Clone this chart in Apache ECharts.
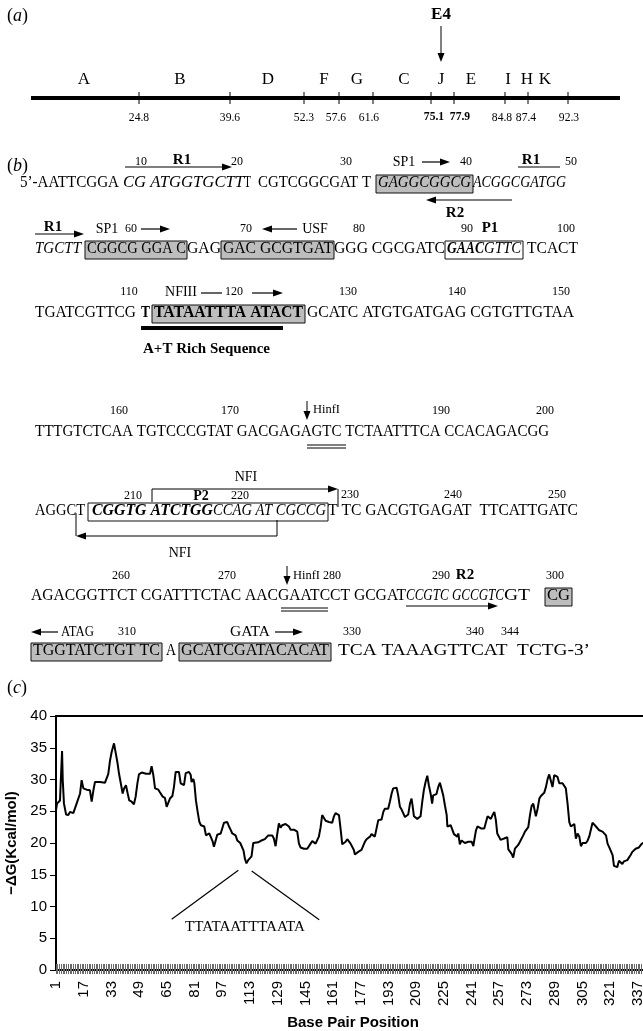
<!DOCTYPE html>
<html><head><meta charset="utf-8">
<script src="https://cdn.jsdelivr.net/npm/echarts@6/dist/echarts.min.js"></script>
<style>html,body{margin:0;padding:0;background:#fff}#main{width:643px;height:1031px}</style>
</head><body><div id="main"></div>
<script>
// ---------- DATA ----------
const mapLetters = ['A','B','D','F','G','C','J','E','I','H','K'];
const mapCoordLabels = ['24.8','39.6','52.3','57.6','61.6','75.1','77.9','84.8','87.4','92.3'];
const boldCoordLabels = ['75.1','77.9'];
const basePositions = [1,1.6,2.3,3.3,4.5,4.9,5.6,6.8,8.1,9.1,10.0,11.0,12.0,12.9,13.9,14.9,15.8,16.8,18.7,20.6,21.6,22.6,23.5,26.4,29.3,30.3,31.2,32.2,33.1,34.5,35.4,36.4,37.4,38.3,39.5,40.3,41.4,42.4,43.3,44.7,46.0,47.0,48.0,48.9,50.5,53.0,55.3,56.2,57.2,58.2,60.1,61.0,62.0,62.6,63.9,64.9,65.9,66.8,68.2,69.1,70.1,71.1,72.0,73.0,74.9,75.9,77.8,78.8,79.3,80.3,80.9,81.8,82.8,83.8,84.7,85.7,86.6,87.6,88.6,89.5,90.5,91.5,92.2,93.2,94.1,96.1,97.0,98.0,99.0,99.9,100.9,101.8,102.8,103.8,104.7,105.7,107.4,108.4,109.3,110.1,111.0,112.0,113.0,113.9,114.9,115.9,117.8,118.7,119.7,120.7,121.6,122.6,123.6,124.5,125.9,126.8,127.8,128.8,129.7,130.7,131.6,132.6,133.6,134.5,135.5,136.5,138.4,139.3,140.3,141.3,142.2,143.2,144.2,145.1,146.1,147.0,148.0,149.0,149.9,150.9,151.9,152.8,153.8,154.7,155.7,156.7,157.6,158.6,159.5,160.5,161.5,162.4,163.4,164.4,165.3,166.3,167.2,168.2,169.2,170.1,171.1,172.1,173.0,173.6,174.6,175.5,176.5,177.4,178.4,179.4,180.3,181.3,182.3,183.2,184.2,185.1,186.1,187.1,188.0,189.0,190.0,190.9,191.9,192.8,193.8,194.8,195.7,196.7,197.7,198.6,199.6,200.5,201.5,202.5,203.4,204.4,205.4,206.3,206.9,207.7,208.6,209.6,210.5,211.5,212.5,213.4,214.4,215.4,216.3,217.3,218.2,218.8,219.8,220.7,221.7,222.7,223.7,224.6,225.6,226.6,227.0,227.9,228.9,229.8,230.8,231.7,232.7,233.3,234.2,235.2,236.2,237.1,238.1,239.1,240.0,241.0,242.0,242.5,243.5,244.4,245.4,246.4,247.3,248.3,249.3,250.2,251.2,252.1,253.1,254.1,255.0,255.8,256.8,257.7,258.7,259.7,260.6,261.6,262.2,263.1,264.1,265.0,266.0,267.0,267.9,268.9,269.9,270.8,271.8,272.7,273.7,274.7,275.6,276.6,277.6,278.1,279.1,280.1,281.0,282.0,282.9,283.9,284.9,285.8,286.8,287.7,288.7,289.7,290.6,291.6,292.6,293.5,294.5,295.4,296.4,297.4,298.3,299.3,300.3,301.2,302.2,303.2,304.1,305.1,306.0,307.0,308.0,308.9,309.9,310.8,311.8,312.8,313.7,314.7,315.7,316.6,317.6,318.6,319.5,320.5,321.4,322.4,323.2,324.1,325.1,326.1,327.0,328.0,328.9,329.9,330.9,331.8,332.8,333.8,334.7,335.7,336.7,337.6,338.6,339.3,340.2];
const deltaG = [25.2,26.2,26.5,26.7,34.5,29.9,26.2,24.5,24.4,24.9,25.1,24.7,24.6,26.2,26.5,27.8,29.9,28.6,28.4,28.3,26.5,28.3,29.6,29.6,29.5,29.4,30.9,33.0,34.3,35.7,34.3,32.8,30.9,30.9,27.8,28.6,29.1,27.8,26.7,26.5,26.1,27.3,29.4,30.8,31.1,30.9,30.9,32.1,30.7,28.6,28.4,28.0,28.3,27.3,27.1,25.7,25.9,27.0,27.4,28.8,31.2,30.9,31.2,29.4,29.1,31.0,31.2,30.7,29.6,30.1,29.4,26.7,24.9,23.3,22.8,23.1,22.6,21.2,21.0,21.5,21.2,20.2,19.4,20.4,21.3,21.5,21.8,23.2,23.5,23.3,22.6,22.1,21.5,21.8,21.2,20.4,20.0,19.8,18.8,17.5,16.8,17.3,17.6,17.9,20.0,20.2,20.1,19.8,20.4,20.3,20.6,20.6,21.2,21.3,21.2,20.7,19.5,21.5,23.1,22.4,22.8,22.5,23.0,23.0,22.6,22.1,22.1,22.0,21.8,19.9,19.3,19.2,19.1,19.3,19.1,19.4,19.9,20.3,20.2,19.9,19.8,21.0,22.5,24.4,24.1,23.5,23.3,23.3,23.1,23.2,24.2,24.7,24.9,24.4,22.3,19.8,19.9,20.2,20.6,20.6,19.9,19.8,18.9,18.2,18.4,18.6,18.8,18.9,19.0,20.2,20.6,20.7,21.0,21.4,21.2,21.0,22.3,23.6,23.8,23.7,24.9,25.4,25.2,25.4,26.5,27.8,28.6,28.4,28.7,27.5,25.7,25.3,25.4,24.1,24.1,24.5,26.2,27.0,25.9,24.2,24.0,23.8,23.8,24.2,26.5,28.3,29.6,30.6,29.1,27.8,26.2,27.5,27.8,27.7,28.8,29.5,29.4,27.5,25.9,24.4,22.6,22.6,22.8,23.0,21.4,21.5,21.0,21.5,19.8,20.4,20.2,20.0,19.9,20.2,20.4,20.2,19.5,20.4,22.0,22.6,22.4,22.3,22.1,22.3,22.4,24.2,24.0,23.8,24.4,24.9,23.6,21.5,21.0,20.5,20.3,20.7,21.0,20.9,19.0,18.9,18.3,17.7,19.1,19.3,19.7,20.2,20.5,21.2,21.8,21.8,22.5,24.4,25.8,26.2,25.9,24.2,25.4,27.0,27.4,27.4,27.9,28.8,30.1,30.8,30.9,28.8,30.7,30.8,30.4,29.4,29.3,29.4,29.3,28.6,26.2,23.3,22.6,22.8,23.0,20.7,21.5,21.0,19.5,20.0,19.8,20.0,20.4,21.0,21.2,23.2,23.2,22.6,22.4,22.0,22.1,21.8,21.9,21.2,19.9,19.3,19.0,18.1,16.4,16.1,16.2,17.2,17.4,16.7,17.1,17.1,17.3,17.6,18.1,18.6,18.9,19.1,19.4,19.3,19.5,19.9,20.0];
const xTickLabels = [1,17,33,49,65,81,97,113,129,145,161,177,193,209,225,241,257,273,289,305,321,337];
const seqLength = 344;
const yTickLabels = [0,5,10,15,20,25,30,35,40];
const annotationText = 'TTATAATTTAATA';

// ---------- DRAWING HELPERS ----------
const SERIF = '"Liberation Serif","Times New Roman",serif';
const SANS = '"Liberation Sans",Arial,sans-serif';
const cv = document.createElement('canvas').getContext('2d');
const G = [];
const SEQ = 16, NUM = 12;
function fnt(st, size){ return (st.indexOf('i')>=0?'italic ':'') + (st.indexOf('b')>=0?'bold ':'') + size + 'px ' + SERIF; }
function fit(text, x1, x2, y, st, size){
  const font = fnt(st||'', size||SEQ);
  cv.font = font;
  const w = cv.measureText(text).width;
  G.push({type:'text', x:x1, y:y, scaleX:(x2-x1)/w, z:10,
    style:{text:text, font:font, fill:'#000', textAlign:'left', align:'left', textVerticalAlign:'middle', verticalAlign:'middle'}});
}
function ctext(text, cx, y, st, size, sx){
  const font = fnt(st||'', size||NUM);
  G.push({type:'text', x:cx, y:y, z:10, scaleX:sx||1,
    style:{text:text, font:font, fill:'#000', textAlign:'center', align:'center', textVerticalAlign:'middle', verticalAlign:'middle'}});
}
function ln(x1,y1,x2,y2,w){ G.push({type:'line', z:9, shape:{x1,y1,x2,y2}, style:{stroke:'#000', lineWidth:w||1}}); }
function head(x,y,dir){
  let p;
  if(dir==='r') p=[[x,y],[x-10,y-3.5],[x-10,y+3.5]];
  else if(dir==='l') p=[[x,y],[x+10,y-3.5],[x+10,y+3.5]];
  else p=[[x,y],[x-3.5,y-9],[x+3.5,y-9]];
  G.push({type:'polygon', z:9, shape:{points:p}, style:{fill:'#000'}});
}
function arrowR(x1,x2,y){ ln(x1,y,x2-6,y,1.2); head(x2,y,'r'); }
function arrowL(x1,x2,y){ ln(x1,y,x2+6,y,1.2); head(x2,y,'l'); }
function arrowD(x,y1,y2){ ln(x,y1,x,y2-6,1); head(x,y2,'d'); }
function box(x1,x2,yc,filled){ G.push({type:'rect', z:5, shape:{x:x1,y:yc-9,width:x2-x1,height:18},
  style:{fill: filled?'#bdbdbd':'none', stroke:'#111', lineWidth:1}}); }
function panel(letter, x, y){
  G.push({type:'text', x:x, y:y, z:10, style:{text:'({it|'+letter+'})', font:'18px '+SERIF, fill:'#000',
    textVerticalAlign:'middle', verticalAlign:'middle', rich:{it:{fontStyle:'italic', fontSize:18, fontFamily:SERIF}}}});
}

// ---------- PANEL (a) ----------
const letterX = [84,180,268,324,357,404,441,471,508,527,545];
const tickX = [139,230,304,339,373,431,454,505,528,568];
const tickLabelX = [139,230,304,336,369,434,460,502,526,569];
panel('a', 7, 16);
ctext('E4', 441, 15, 'b', 17);
arrowD(441, 26, 62);
mapLetters.forEach((l,i)=>ctext(l, letterX[i], 80, '', 17));
ln(31, 98, 620, 98, 4);
mapCoordLabels.forEach((t,i)=>{
  ln(tickX[i], 92, tickX[i], 104, 1);
  ctext(t, tickLabelX[i], 117, boldCoordLabels.indexOf(t)>=0?'b':'', 13.5, 0.86);
});

// ---------- PANEL (b) ----------
panel('b', 7, 166);
// row 1
let y = 183;
fit('5\u2019-AATTCGGA', 20, 119, y);
fit('CG ATGGTGCTT', 123, 244, y, 'i');
fit('T', 244, 251, y);
fit('CGTCGGCGAT T', 258, 371, y);
box(376, 473, y+1, true);
fit('GAGGCGGCG', 378, 471, y, 'i');
fit('ACGGCGATGG', 473, 566, y, 'i');
ctext('10', 141, y-21); ctext('R1', 182, y-23, 'b', 15); ctext('20', 237, y-21);
arrowR(125, 232, y-16);
ctext('30', 346, y-21); ctext('SP1', 404, y-21, '', 14); arrowR(422, 450, y-21); ctext('40', 466, y-21);
ctext('R1', 531, y-23, 'b', 15); ln(518, y-16, 560, y-16, 1.2); ctext('50', 571, y-21);
arrowL(512, 426, y+17); ctext('R2', 455, y+30, 'b', 15);
// row 2
y = 249;
ctext('R1', 53, y-22, 'b', 15); arrowR(35, 84, y-15);
ctext('SP1', 107, y-20, '', 14); ctext('60', 131, y-20); arrowR(141, 170, y-20);
ctext('70', 246, y-20); arrowL(297, 262, y-20); ctext('USF', 315, y-20, '', 14);
ctext('80', 359, y-20); ctext('90', 467, y-20); ctext('P1', 490, y-21, 'b', 15); ctext('100', 566, y-20);
fit('TGCTT', 35, 81, y, 'i');
box(85, 187, y+1, true); fit('CGGCG GGA C', 87, 186, y);
fit('GAG', 187, 221, y);
box(221, 334, y+1, true); fit('GAC GCGTGAT', 223, 333, y);
fit('GGG CGCGATC', 334, 445, y);
box(445, 523, y+1, false); fit('GAAC', 447, 484, y, 'bi'); fit('GTTC', 484, 521, y, 'i');
fit('TCACT', 527, 578, y);
// row 3
y = 313;
ctext('110', 129, y-21); ctext('NFIII', 181, y-21, '', 14); ln(201, y-20, 222, y-20, 1.2);
ctext('120', 234, y-21); arrowR(252, 283, y-20);
ctext('130', 348, y-21); ctext('140', 457, y-21); ctext('150', 561, y-21);
fit('TGATCGTTCG', 35, 136, y);
fit('T', 141, 150, y, 'b');
box(152, 305, y+1, true); fit('TATAATTTA ATACT', 154, 303, y, 'b');
fit('GCATC ATGTGATGAG CGTGTTGTAA', 307, 574, y);
ln(141, y+15, 283, y+15, 4);
fit('A+T Rich Sequence', 143, 270, y+36, 'b', 14);
// row 4
y = 432;
ctext('160', 119, y-21); ctext('170', 230, y-21);
arrowD(307, y-31, y-12); fit('HinfI', 313, 340, y-22, '', 13);
ctext('190', 441, y-21); ctext('200', 545, y-21);
fit('TTTGTCTCAA TGTCCCGTAT GACGAGAGTC TCTAATTTCA CCACAGACGG', 35, 549, y);
ln(307, y+13, 346, y+13, 1); ln(307, y+16, 346, y+16, 1);
// row 5
y = 511;
ctext('NFI', 246, y-34, '', 14);
ln(152, y-22, 152, y-9, 1); ln(152, y-22, 332, y-22, 1.2); head(338, y-22, 'r'); ln(338, y-22, 338, y-4, 1);
ctext('210', 133, y-15); ctext('P2', 201, y-15, 'b', 14); ctext('220', 240, y-15);
ctext('230', 350, y-16); ctext('240', 453, y-16); ctext('250', 557, y-16);
fit('AGGCT', 35, 85, y);
box(88, 328, y+1, false);
fit('CGGTG ATCTGG', 92, 213, y, 'bi'); fit('CCAG AT CGCCG', 213, 326, y, 'i');
fit('T TC GACGTGAGAT  TTCATTGATC', 328, 578, y);
ln(76, y+2, 76, y+25, 1); ln(277, y+9, 277, y+25, 1); ln(277, y+25, 82, y+25, 1.2); head(76, y+25, 'l');
ctext('NFI', 180, y+42, '', 14);
// row 6
y = 596;
ctext('260', 121, y-20); ctext('270', 227, y-20);
arrowD(287, y-30, y-11); fit('HinfI', 293, 320, y-20, '', 13);
ctext('280', 332, y-20); ctext('290', 441, y-20); ctext('R2', 465, y-21, 'b', 15); ctext('300', 555, y-20);
fit('AGACGGTTCT CGATTTCTAC AACGAATCCT GCGAT', 31, 406, y);
fit('CCGTC GCCGTC', 406, 504, y, 'i');
fit('GT', 504, 530, y);
box(545, 572, y+1, true); fit('CG', 547, 570, y);
ln(281, y+12, 328, y+12, 1); ln(281, y+15, 328, y+15, 1);
arrowR(406, 498, y+10);
// row 7
y = 651;
arrowL(58, 31, y-19); fit('ATAG', 61, 94, y-19, '', 14);
ctext('310', 127, y-19); fit('GATA', 230, 270, y-19, '', 14); arrowR(275, 303, y-19);
ctext('330', 352, y-19); ctext('340', 475, y-19); ctext('344', 510, y-19);
box(31, 162, y+1, true); fit('TGGTATCTGT TC', 33, 160, y);
fit('A', 166, 176, y);
box(179, 331, y+1, true); fit('GCATCGATACACAT', 181, 329, y);
fit('TCA TAAAGTTCAT  TCTG-3\u2019', 338, 590, y);

// ---------- PANEL (c) ----------
panel('c', 7, 688);
fit(annotationText, 185, 305, 927, '', 15);

const allTicks = [];
for (let i = 1; i <= seqLength; i++) allTicks.push(i);
const linePoints = basePositions.map((p,i)=>[p, deltaG[i]]);

const chart = echarts.init(document.getElementById('main'), null, {renderer:'canvas'});
const axisFont = {fontSize:15, fontFamily:SANS, color:'#000'};
chart.setOption({
  animation:false,
  backgroundColor:'#fff',
  grid:{left:56, right:-7, top:716, bottom:61, containLabel:false, outerBoundsMode:'none'},
  xAxis:[
    {type:'value', min:1, max:seqLength, position:'bottom',
     axisLine:{show:true, onZero:false, lineStyle:{color:'#000', width:2}},
     axisTick:{show:true, inside:true, length:6, customValues:allTicks, lineStyle:{color:'#6a6a6a', width:1}},
     axisLabel:Object.assign({customValues:xTickLabels, rotate:90, margin:11, showMinLabel:true, showMaxLabel:true, hideOverlap:false}, axisFont),
     splitLine:{show:false},
     name:'Base Pair Position', nameLocation:'middle', nameGap:45,
     nameTextStyle:{fontWeight:'bold', fontSize:15, fontFamily:SANS, color:'#000'}},
    {type:'value', min:1, max:seqLength, position:'bottom',
     axisLine:{show:false, onZero:false},
     axisTick:{show:true, inside:false, length:4, customValues:allTicks, lineStyle:{color:'#6a6a6a', width:1}},
     axisLabel:{show:false}, splitLine:{show:false}},
    {type:'value', min:1, max:seqLength, position:'top',
     axisLine:{show:true, onZero:false, lineStyle:{color:'#000', width:2}},
     axisTick:{show:false}, axisLabel:{show:false}, splitLine:{show:false}}
  ],
  yAxis:{type:'value', min:0, max:40, interval:5,
    axisLine:{show:true, onZero:false, lineStyle:{color:'#000', width:2}},
    axisTick:{show:true, length:6, lineStyle:{color:'#000', width:1}},
    axisLabel:Object.assign({margin:9, customValues:yTickLabels}, axisFont),
    splitLine:{show:false},
    name:'\u2212\u0394G(Kcal/mol)', nameLocation:'middle', nameGap:35,
    nameTextStyle:{fontWeight:'bold', fontSize:15, fontFamily:SANS, color:'#000'}},
  series:[{type:'line', xAxisIndex:0, data:linePoints, symbol:'none', showSymbol:false,
    lineStyle:{color:'#000', width:2}, clip:true,
    markLine:{silent:true, symbol:'none', label:{show:false}, lineStyle:{color:'#000', width:1.2, type:'solid'},
      data:[[{coord:[67.8, 8.0]},{coord:[106.3, 15.7]}],[{coord:[114.0, 15.6]},{coord:[153.0, 7.9]}]]}}],
  graphic:{elements:G}
});
</script></body></html>
